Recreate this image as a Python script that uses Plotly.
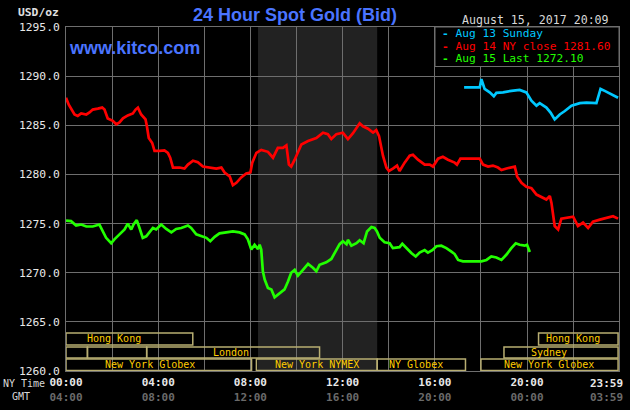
import plotly.graph_objects as go

# ---------------- data (NY time in decimal hours, price in USD/oz) ----------------
red_t = [0, 0.12, 0.37, 0.51, 0.66, 0.88, 1.02, 1.16, 1.38, 1.57,
         1.67, 1.81, 2.03, 2.18, 2.32, 2.47, 2.68, 2.90, 3.02, 3.12,
         3.26, 3.45, 3.51, 3.59, 3.74, 3.84, 4.06, 4.27, 4.42, 4.52,
         4.64, 4.93, 5.14, 5.29, 5.51, 5.72, 5.94, 6.23, 6.52, 6.74,
         6.88, 7.10, 7.24, 7.39, 7.60, 7.82, 8.0, 8.08, 8.26, 8.47,
         8.76, 8.98, 9.19, 9.41, 9.56, 9.67, 9.77, 9.92, 10.02, 10.21,
         10.5, 10.86, 11.15, 11.36, 11.51, 11.73, 12.01, 12.23, 12.45, 12.74,
         12.88, 13.10, 13.32, 13.46, 13.58, 13.75, 13.90, 14.01, 14.18, 14.36,
         14.47, 14.69, 14.91, 15.05, 15.27, 15.56, 15.78, 15.92, 16.14, 16.35,
         16.57, 16.86, 16.96, 17.11, 17.95, 18.09, 18.31, 18.52, 18.74, 18.89,
         19.11, 19.32, 19.47, 19.57, 19.76, 19.97, 20.19, 20.41, 20.62, 20.84,
         20.99, 21.06, 21.20, 21.35, 21.49, 21.78, 22.0, 22.21, 22.43, 22.65,
         22.86, 23.16, 23.45, 23.73, 23.95]
red_v = [1287.8, 1287.1, 1286.1, 1285.95, 1286.2, 1286.1, 1286.3, 1286.6, 1286.7, 1286.8,
         1286.6, 1285.7, 1285.45, 1285.1, 1285.3, 1285.7, 1286.0, 1286.2, 1286.6, 1286.8,
         1286.1, 1285.6, 1284.9, 1283.7, 1283.2, 1282.4, 1282.4, 1282.45, 1282.2, 1281.7,
         1280.7, 1280.7, 1280.6, 1281.0, 1281.4, 1281.25, 1280.8, 1280.7, 1280.6, 1280.7,
         1280.2, 1279.8, 1278.9, 1279.15, 1279.7, 1280.1, 1280.2, 1281.2, 1282.2, 1282.5,
         1282.3, 1281.7, 1282.7, 1282.7, 1282.95, 1281.0, 1280.8, 1281.5, 1282.0, 1283.05,
         1283.4, 1283.7, 1284.25, 1284.1, 1283.6, 1284.1, 1284.25, 1283.6, 1284.2, 1285.2,
         1284.9, 1284.65, 1284.25, 1284.5, 1283.9, 1281.9, 1280.7, 1280.35, 1280.6, 1280.9,
         1280.35, 1281.2, 1281.9, 1282.0, 1281.5, 1281.0, 1281.0, 1280.8, 1281.6, 1281.8,
         1281.5, 1281.2, 1281.0, 1281.6, 1281.6, 1281.0, 1280.8, 1280.9, 1280.7, 1280.45,
         1280.6, 1280.7, 1280.8, 1279.8, 1279.15, 1278.75, 1278.6, 1277.95, 1277.7, 1277.45,
         1277.8, 1277.1, 1274.75, 1274.4, 1275.5, 1275.6, 1275.7, 1274.75, 1275.1, 1274.55,
         1275.2, 1275.4, 1275.6, 1275.75, 1275.5]

cyan_t = [17.27, 17.95, 18.02, 18.16, 18.38, 18.56, 18.67, 18.96, 19.32, 19.68,
          19.97, 20.19, 20.41, 20.55, 20.84, 21.02, 21.20, 21.42, 21.64, 21.93,
          22.29, 22.58, 23.01, 23.19, 23.37, 23.66, 23.95]
cyan_v = [1288.85, 1288.85, 1289.7, 1288.7, 1288.35, 1287.95, 1288.3, 1288.35, 1288.5, 1288.6,
          1288.35, 1287.5, 1287.0, 1287.25, 1286.8, 1286.3, 1285.6, 1286.1, 1286.45, 1287.0,
          1287.25, 1287.3, 1287.25, 1288.7, 1288.5, 1288.15, 1287.8]

green_t = [0, 0.22, 0.44, 0.66, 0.88, 1.16, 1.45, 1.60, 1.74, 1.96,
           2.10, 2.32, 2.54, 2.68, 2.83, 2.93, 3.07, 3.19, 3.33, 3.48,
           3.62, 3.77, 3.91, 4.13, 4.35, 4.57, 4.78, 5.0, 5.29, 5.43,
           5.65, 5.87, 6.09, 6.26, 6.45, 6.66, 6.95, 7.24, 7.53, 7.75,
           7.89, 8.04, 8.18, 8.33, 8.40, 8.47, 8.54, 8.62, 8.76, 8.91,
           9.05, 9.27, 9.48, 9.63, 9.77, 9.92, 10.06, 10.28, 10.50, 10.71,
           10.86, 11.0, 11.29, 11.51, 11.73, 11.87, 12.01, 12.17, 12.23, 12.38,
           12.60, 12.74, 12.91, 13.06, 13.25, 13.39, 13.49, 13.61, 13.82, 14.04,
           14.18, 14.47, 14.59, 14.76, 14.98, 15.17, 15.34, 15.56, 15.70, 15.89,
           16.07, 16.28, 16.50, 16.72, 16.86, 17.01, 17.22, 18.02, 18.24, 18.45,
           18.67, 18.89, 19.11, 19.32, 19.51, 19.68, 19.90, 20.0, 20.12]
green_v = [1275.3, 1275.25, 1274.8, 1274.9, 1274.7, 1274.7, 1274.9, 1274.2, 1273.55, 1273.0,
           1273.4, 1273.9, 1274.4, 1275.0, 1274.4, 1274.9, 1275.35, 1274.55, 1273.55, 1273.7,
           1274.1, 1274.55, 1274.4, 1274.9, 1274.45, 1274.1, 1274.45, 1274.55, 1274.8, 1274.55,
           1273.9, 1273.7, 1273.55, 1273.2, 1273.65, 1274.0, 1274.1, 1274.2, 1274.1, 1273.9,
           1273.4, 1272.35, 1272.85, 1272.4, 1272.85, 1272.35, 1270.15, 1269.3, 1268.45, 1268.3,
           1267.5, 1267.9, 1268.3, 1269.1, 1270.0, 1270.3, 1269.7, 1270.3, 1270.9, 1270.5,
           1270.15, 1270.8, 1271.05, 1271.4, 1272.35, 1272.9, 1273.2, 1272.9, 1273.35, 1272.75,
           1273.0, 1273.3, 1273.0, 1274.2, 1274.65, 1274.55, 1274.2, 1273.55, 1273.1, 1273.0,
           1272.5, 1272.6, 1272.95, 1272.5, 1272.0, 1271.65, 1272.05, 1272.3, 1272.05, 1272.3,
           1272.7, 1272.75, 1272.5, 1272.15, 1271.9, 1271.3, 1271.15, 1271.15, 1271.3, 1271.65,
           1271.55, 1271.3, 1271.85, 1272.5, 1273.0, 1272.85, 1272.75, 1272.85, 1272.1]

series_names = ["Aug 13 Sunday", "Aug 14 NY close 1281.60", "Aug 15 Last 1272.10"]
series_colors = ["#00c8ff", "#ff0000", "#22ff00"]

x_tickvals = [0, 4, 8, 12, 16, 20, 23.98]
ny_labels = ["00:00", "04:00", "08:00", "12:00", "16:00", "20:00", "23:59"]
gmt_labels = ["04:00", "08:00", "12:00", "16:00", "20:00", "00:00", "03:59"]

# trading sessions: row (0 top), start hour, end hour, label, label position
sess_row = [0, 0, 1, 1, 1, 1, 2, 2, 2, 2]
sess_start = [0, 20.5, 0, 0.93, 3.5, 19.0, 0, 8.26, 13.5, 18.0]
sess_end = [5.5, 23.95, 0.93, 3.5, 11.0, 23.95, 8.05, 13.5, 17.33, 23.95]
sess_label = ["Hong Kong", "Hong Kong", "", "", "London", "Sydney",
              "New York Globex", "New York NYMEX", "NY Globex", "New York Globex"]
sess_label_x = [2.1, 22.0, 0, 0, 7.14, 20.96, 3.63, 10.88, 15.17, 20.96]
row_bottom = [1262.65, 1261.33, 1260.05]
row_top = [1263.87, 1262.45, 1261.23]

nymex_start, nymex_end = 8.33, 13.5

# ---------------- layout geometry ----------------
W, H = 630, 410
L, R, T, B = 66, 11, 27, 39
PW, PH = W - L - R, H - T - B


def pxx(p):
    return (p - L) / PW


def pxy(p):
    return (H - B - p) / PH


MONO = "DejaVu Sans Mono"
SANS = "Liberation Sans"
GRID = "#6e6e6e"
GMT_COLOR = "#6a6a6a"

fig = go.Figure()
for t, v, c in [(red_t, red_v, series_colors[1]),
                (green_t, green_v, series_colors[2]),
                (cyan_t, cyan_v, series_colors[0])]:
    fig.add_trace(go.Scatter(x=t, y=v, mode="lines",
                             line=dict(color=c, width=2.7),
                             showlegend=False, hoverinfo="skip"))

shapes = [dict(type="rect", xref="x", yref="y", x0=nymex_start, x1=nymex_end,
               y0=1260, y1=1295, fillcolor="#222222", line=dict(width=0), layer="below")]
for r, s, e in zip(sess_row, sess_start, sess_end):
    shapes.append(dict(type="rect", xref="x", yref="y", x0=s, x1=e,
                       y0=row_bottom[r], y1=row_top[r],
                       fillcolor="rgba(0,0,0,0)",
                       line=dict(color="#b8ae72", width=1.5), layer="above"))
# legend box
shapes.append(dict(type="rect", xref="paper", yref="paper",
                   x0=pxx(435), x1=1.0, y0=pxy(66.5), y1=1.0,
                   fillcolor="#000000", line=dict(color=GRID, width=1), layer="above"))

ann = []
for r, lab, lx in zip(sess_row, sess_label, sess_label_x):
    if lab:
        ann.append(dict(x=lx, y=(row_bottom[r] + row_top[r]) / 2, xref="x", yref="y",
                        text=lab, showarrow=False, xanchor="center", yanchor="middle",
                        font=dict(family=MONO, size=10, color="#ffcc00")))

leg_y = [33.5, 46, 58.5]
for name, col, yy in zip(series_names, series_colors, leg_y):
    ann.append(dict(x=pxx(440), y=pxy(yy), xref="paper", yref="paper",
                    text="<b>-</b> " + name, showarrow=False, xanchor="left", yanchor="middle",
                    font=dict(family=MONO, size=11.2, color=col)))

# last time label sits flush with the right edge of the frame
ann.append(dict(x=x_tickvals[-1], y=0, xref="x", yref="paper", xanchor="right", yanchor="top",
                xshift=6, yshift=-4, showarrow=False,
                text=f"<b>{ny_labels[-1]}<br><span style='color:{GMT_COLOR}'>{gmt_labels[-1]}</span></b>",
                font=dict(family=MONO, size=11, color="#e8e8e8")))

ann += [
    dict(x=pxx(294.5), y=pxy(15), xref="paper", yref="paper", text="<b>24 Hour Spot Gold (Bid)</b>",
         showarrow=False, xanchor="center", yanchor="middle",
         font=dict(family=SANS, size=18, color="#4a74ff")),
    dict(x=pxx(67), y=pxy(48), xref="paper", yref="paper", text="<b>www.kitco.com</b>",
         showarrow=False, xanchor="left", yanchor="middle",
         font=dict(family=SANS, size=18, color="#4a74ff")),
    dict(x=pxx(535), y=pxy(20), xref="paper", yref="paper", text="August 15, 2017 20:09",
         showarrow=False, xanchor="center", yanchor="middle",
         font=dict(family=MONO, size=11.6, color="#d8d8d8")),
    dict(x=pxx(61), y=pxy(13), xref="paper", yref="paper", text="<b>USD/oz</b>",
         showarrow=False, xanchor="right", yanchor="middle",
         font=dict(family=MONO, size=11.3, color="#e0e0e0")),
    dict(x=pxx(1), y=pxy(383), xref="paper", yref="paper", text="NY Time",
         showarrow=False, xanchor="left", yanchor="middle",
         font=dict(family=MONO, size=10, color="#d8d8d8")),
    dict(x=pxx(10), y=pxy(397), xref="paper", yref="paper", text="GMT",
         showarrow=False, xanchor="left", yanchor="middle",
         font=dict(family=MONO, size=10, color="#d8d8d8")),
]

ticktext = [f"<b>{a}<br><span style='color:{GMT_COLOR}'>{b}</span></b>"
            for a, b in zip(ny_labels[:-1], gmt_labels[:-1])] + [""]

fig.update_layout(
    width=W, height=H,
    margin=dict(l=L, r=R, t=T, b=B, pad=0, autoexpand=False),
    paper_bgcolor="#000000", plot_bgcolor="#000000",
    shapes=shapes, annotations=ann, showlegend=False,
    xaxis=dict(range=[0, 23.99], tickvals=x_tickvals, ticktext=ticktext,
               automargin=False,
               showgrid=True, gridcolor=GRID, gridwidth=1, zeroline=False,
               showline=True, linecolor=GRID, linewidth=1, mirror=True,
               ticks="outside", ticklen=1, tickcolor="rgba(0,0,0,0)",
               minor=dict(dtick=2, tick0=0, showgrid=True, gridcolor=GRID, gridwidth=1),
               tickfont=dict(family=MONO, size=11, color="#e8e8e8")),
    yaxis=dict(range=[1260, 1295], dtick=5, tick0=1260, tickformat=".1f",
               automargin=False,
               showgrid=True, gridcolor=GRID, gridwidth=1, zeroline=False,
               showline=True, linecolor=GRID, linewidth=1, mirror=True,
               ticks="outside", ticklen=3, tickcolor="rgba(0,0,0,0)",
               tickfont=dict(family=MONO, size=11.3, color="#e8e8e8")),
)

fig.write_html("out.html")
